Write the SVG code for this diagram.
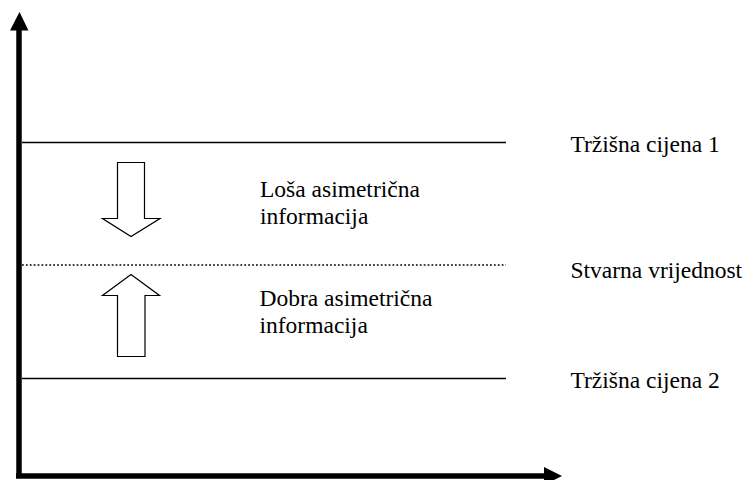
<svg xmlns="http://www.w3.org/2000/svg" width="747" height="480" viewBox="0 0 747 480">
<style>
  .lbl { font-family: "Liberation Serif", "Times New Roman", serif; font-size: 23.5px; fill: #000; }
  .axis { stroke: #000; stroke-width: 5.5; fill: none; }
  .lvl { stroke: #000; stroke-width: 1.3; fill: none; }
  .dot { stroke: #000; stroke-width: 1.5; stroke-dasharray: 1.8 2.1; fill: none; }
  .big { fill: #fff; stroke: #000; stroke-width: 1.2; }
</style>
<rect width="747" height="480" fill="#fff"/>
<g id="connectors">
  <line class="axis" x1="19" y1="478" x2="19" y2="28"/>
  <polygon points="19.5,12 28.5,30.5 10,30.5" fill="#000"/>
  <line class="axis" x1="16" y1="476" x2="546" y2="476"/>
  <polygon points="562,476 544,467 544,485" fill="#000"/>
  <line class="lvl" x1="22" y1="142.5" x2="506" y2="142.5"/>
  <line class="dot" x1="22" y1="265" x2="506" y2="265"/>
  <line class="lvl" x1="22" y1="378.5" x2="506" y2="378.5"/>
</g>
<g id="arrow-down">
  <polygon class="big" points="117.5,162.5 144.5,162.5 144.5,218.5 160,218.5 131,236.5 102.5,218.5 117.5,218.5"/>
</g>
<g id="arrow-up">
  <polygon class="big" points="131,274.5 159.5,295.5 145,295.5 145,356.5 117.5,356.5 117.5,295.5 102.5,295.5"/>
</g>
<g id="label-losa">
  <text class="lbl" x="260" y="197">Loša asimetrična</text>
  <text class="lbl" x="260" y="223.5">informacija</text>
</g>
<g id="label-dobra">
  <text class="lbl" x="259.5" y="306">Dobra asimetrična</text>
  <text class="lbl" x="259.5" y="333">informacija</text>
</g>
<g id="label-cijena1">
  <text class="lbl" x="570.5" y="152">Tržišna cijena 1</text>
</g>
<g id="label-stvarna">
  <text class="lbl" x="570.5" y="278">Stvarna vrijednost</text>
</g>
<g id="label-cijena2">
  <text class="lbl" x="570.5" y="387.5">Tržišna cijena 2</text>
</g>
</svg>
